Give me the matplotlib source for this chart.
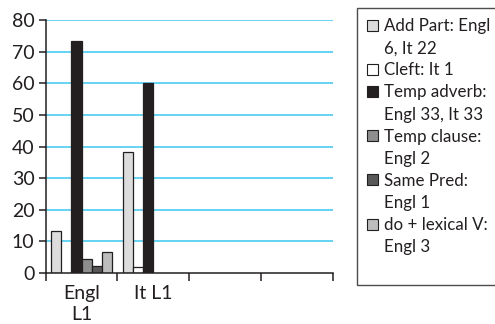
import numpy as np
import matplotlib
matplotlib.use("Agg")
import matplotlib.pyplot as plt
from matplotlib.patches import Patch

plt.rcParams['font.family'] = ['Lato', 'DejaVu Sans']

# percentages per group (Engl L1, It L1); two empty slots follow
categories = ["Engl\nL1", "It L1", "", ""]
add_part = [13.3, 38.2]
cleft = [0.0, 1.8]
temp_adverb = [73.3, 60.0]
temp_clause = [4.4, 0.0]
same_pred = [2.2, 0.0]
do_lexical = [6.7, 0.0]

series_labels = [
    ["Add Part: Engl", "6, It 22"],
    ["Cleft: It 1"],
    ["Temp adverb:", "Engl 33, It 33"],
    ["Temp clause:", "Engl 2"],
    ["Same Pred:", "Engl 1"],
    ["do + lexical V:", "Engl 3"],
]
series_values = [add_part, cleft, temp_adverb, temp_clause, same_pred, do_lexical]
series_colors = ["#dcdcdc", "#ffffff", "#231f20", "#8e8e8e", "#585858", "#bdbdbd"]

ink = "#231f20"
grid_blue = "#3cc6f0"

fig = plt.figure(figsize=(4.95, 3.24), dpi=100)
ax = fig.add_axes([0.0923, 0.1583, 0.5798, 0.7790])

w = 1 / 7
x0 = np.arange(len(add_part))
for j, (vals, col) in enumerate(zip(series_values, series_colors)):
    vals = np.array(vals)
    xs = x0 + (j + 1) * w
    keep = vals > 0
    ax.bar(xs[keep], vals[keep], width=w, color=col, edgecolor=ink,
           linewidth=0.9, zorder=3)

ax.set_xlim(0, len(categories))
ax.set_ylim(0, 80)
ax.set_yticks(np.arange(0, 81, 10))
for y in range(10, 81, 10):
    ax.axhline(y, color=grid_blue, lw=1.1, zorder=1)

ax.set_xticks(np.arange(0, len(categories) + 1))
ax.set_xticklabels([])
ax.set_xticks(np.arange(len(categories)) + 0.5, minor=True)
ax.set_xticklabels(categories, minor=True, fontsize=14, color=ink,
                   linespacing=1.25)
ax.tick_params(axis="x", which="minor", length=0, pad=9)
ax.tick_params(axis="x", which="major", length=6, width=1.1, color=ink,
               direction="out")
ax.tick_params(axis="y", length=5, width=1.1, color=ink, labelsize=14,
               labelcolor=ink, pad=3)

for s in ["top", "right"]:
    ax.spines[s].set_visible(False)
for s in ["left", "bottom"]:
    ax.spines[s].set_color(ink)
    ax.spines[s].set_linewidth(1.1)
ax.spines["bottom"].set_zorder(4)

# legend: one row per text line, swatch only on the first line
blank = Patch(facecolor="none", edgecolor="none")
handles, labels = [], []
for lines, col in zip(series_labels, series_colors):
    for k, line in enumerate(lines):
        if k == 0:
            handles.append(Patch(facecolor=col, edgecolor=ink, linewidth=0.8))
        else:
            handles.append(blank)
        labels.append(line)
# trailing empty row leaves room at the bottom of the box
handles.append(blank)
labels.append(" ")

leg = fig.legend(handles, labels, loc="upper left",
                 bbox_to_anchor=(357 / 495, 1 - 8 / 324),
                 bbox_transform=fig.transFigure,
                 fontsize=12.2, frameon=True, fancybox=False,
                 edgecolor=ink, handlelength=0.62, handleheight=0.62,
                 handletextpad=0.4, labelspacing=0.36,
                 borderpad=0.6, borderaxespad=0)
leg.get_frame().set_linewidth(1.0)
for t in leg.get_texts():
    t.set_color(ink)
leg.get_texts()[-1].set_fontsize(7)

fig.savefig("out.png", dpi=100)
